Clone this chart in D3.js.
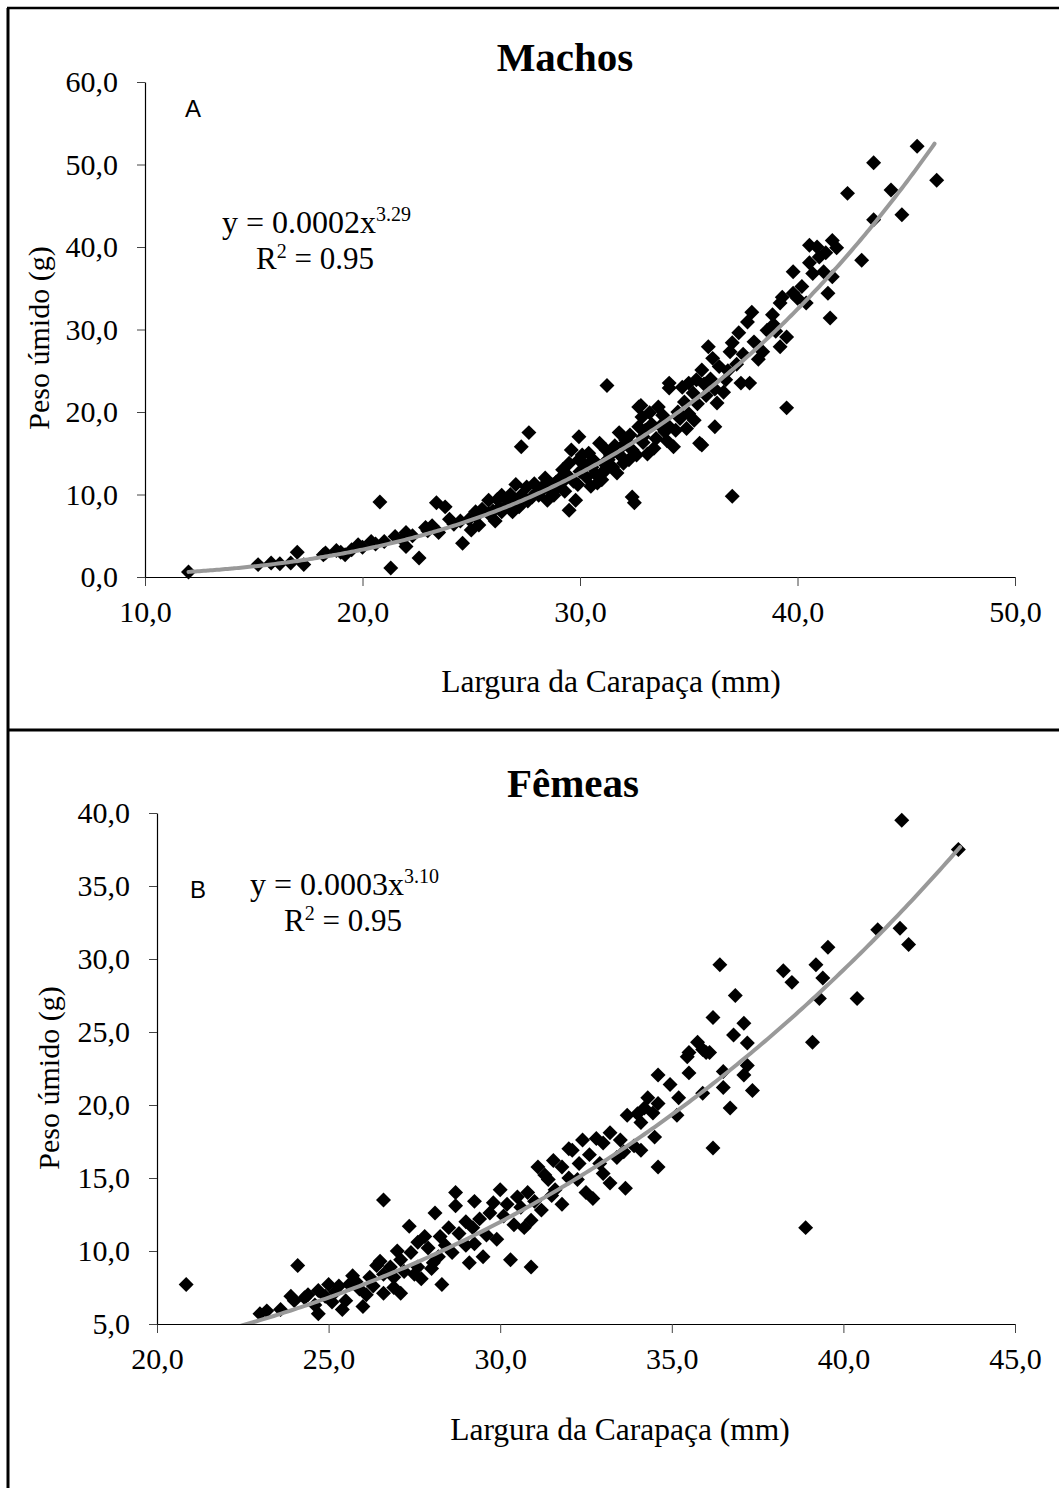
<!DOCTYPE html>
<html>
<head>
<meta charset="utf-8">
<script src="https://cdn.jsdelivr.net/npm/d3@7"></script>
<style>
  body { margin: 0; background: #fff; }
  svg { display: block; }
</style>
</head>
<body>
<div id="vizcont"></div>
<script>
// ---- data (largura mm, peso g) ----
var machos = [
  [12.0,0.6],[15.2,1.5],[15.8,1.7],[16.2,1.6],[16.7,1.7],[17.0,3.0],[17.3,1.5],[18.2,2.7],[18.3,2.9],[18.8,3.2],
  [19.0,3.0],[19.2,2.7],[19.5,3.3],[19.8,3.9],[20.0,3.6],[20.4,4.3],[20.6,4.0],[20.8,9.1],[21.0,4.3],[21.3,1.1],
  [21.5,4.9],[21.8,4.6],[22.0,5.4],[22.0,3.7],[22.3,5.0],[22.6,2.3],[22.9,6.0],[23.0,5.6],[23.2,6.2],[23.4,9.0],
  [23.5,5.4],[23.8,8.5],[24.0,7.0],[24.2,6.4],[24.5,6.8],[24.6,4.1],[24.9,7.0],[25.0,5.7],[25.2,7.3],[25.2,7.9],
  [25.35,6.3],[25.5,8.2],[25.8,7.7],[25.8,9.3],[26.1,6.8],[26.4,7.9],[26.4,9.9],[26.6,8.6],[26.9,7.9],[27.05,11.2],
  [27.2,8.5],[27.3,15.8],[27.55,10.9],[27.65,17.5],[27.8,9.7],[28.0,10.2],[28.25,10.5],[28.5,9.3],[28.7,11.2],[29.0,10.9],
  [29.2,13.0],[29.3,11.8],[29.5,8.1],[29.5,13.8],[29.6,15.4],[29.8,9.3],[29.95,14.2],[29.95,17.0],[30.3,12.1],[30.4,15.0],
  [30.55,13.3],[30.8,11.4],[30.9,16.2],[31.0,11.8],[31.0,12.6],[31.2,15.4],[31.24,23.2],[31.3,14.2],[31.5,13.3],[31.8,17.5],
  [32.1,16.6],[32.25,14.2],[32.4,9.7],[32.5,9.0],[32.6,14.8],[32.7,18.2],[32.7,20.6],[32.8,20.8],[32.85,19.4],[33.2,19.9],
  [33.5,16.8],[33.6,20.6],[34.1,18.2],[34.1,22.9],[34.1,23.5],[34.3,15.8],[34.4,17.8],[34.7,23.0],[35.0,23.5],[35.25,19.0],
  [35.35,23.9],[35.5,16.2],[35.6,25.1],[35.6,16.0],[35.9,27.9],[36.1,26.5],[36.2,18.2],[36.3,21.1],[36.7,23.9],[36.9,27.3],
  [37.0,9.8],[37.0,28.4],[37.3,29.6],[37.7,30.9],[37.8,23.5],[37.9,32.1],[38.4,27.3],[38.6,29.9],[38.85,31.8],[39.2,27.9],
  [39.2,33.2],[39.3,33.9],[39.5,29.1],[39.5,20.5],[39.8,34.4],[39.8,37.0],[40.4,33.2],[40.55,38.1],[40.55,40.2],[40.7,36.8],
  [41.3,39.3],[41.4,34.4],[41.5,31.4],[41.6,36.4],[41.6,40.8],[41.8,39.9],[42.3,46.5],[42.95,38.4],[43.5,43.3],[43.5,50.2],
  [44.3,46.9],[44.8,43.9],[45.5,52.2],[46.4,48.1],
  [26.0,8.0],[26.3,8.4],[26.7,9.2],[27.0,9.0],[27.4,9.6],[27.6,9.2],[28.1,9.9],[28.3,11.0],[28.6,10.6],[28.9,11.5],
  [29.1,12.0],[29.4,12.4],[29.7,11.6],[30.0,12.8],[30.2,13.6],[30.6,14.2],[30.7,12.5],[31.1,13.8],[31.4,14.8],[31.6,15.9],
  [31.9,14.6],[32.0,16.0],[32.3,17.2],[32.9,16.3],[33.0,17.8],[33.3,18.5],[33.4,15.6],[33.8,19.6],[33.9,17.6],[34.5,20.0],
  [34.8,21.2],[35.0,19.8],[35.2,22.3],[35.8,22.0],[36.0,24.0],[36.4,25.5],[36.6,22.4],[37.2,25.8],[37.5,27.0],[38.0,28.5],
  [38.2,26.4],[38.9,30.6],[39.0,29.8],[40.0,33.8],[40.2,35.2],[41.0,38.8],[41.2,37.0],[40.9,40.0],
  [26.2,9.4],[26.8,10.0],[27.3,9.9],[27.9,11.3],[28.4,12.0],[28.8,9.9],[29.3,10.4],[29.9,11.2],[30.1,14.8],[30.5,11.0],
  [31.2,13.0],[31.7,12.6],[32.0,13.8],[32.4,15.4],[32.9,17.0],[33.1,14.9],[33.7,18.3],[34.0,16.5],[34.6,19.2],[34.9,18.0],
  [35.4,21.0],[35.7,23.4],[36.2,22.8],[36.8,25.0],[37.4,23.5]
];
var femeas = [
  [20.85,7.7],[23.0,5.7],[23.2,5.9],[23.6,6.0],[23.9,6.9],[24.1,9.0],[24.3,6.8],[24.7,5.7],[24.7,7.3],[25.0,7.7],
  [25.1,6.5],[25.4,6.0],[25.6,7.7],[25.8,7.9],[26.0,6.2],[26.4,9.0],[26.6,13.5],[26.6,7.1],[26.8,8.9],[26.9,7.5],
  [27.1,7.1],[27.1,9.4],[27.35,11.7],[27.6,10.6],[27.6,8.9],[27.7,8.1],[28.05,9.2],[28.1,12.6],[28.25,11.0],[28.3,7.7],
  [28.6,9.9],[28.7,13.1],[28.7,14.0],[29.1,9.2],[29.2,11.6],[29.25,10.5],[29.25,13.4],[29.8,13.3],[30.0,14.2],[30.3,9.4],
  [30.5,13.7],[30.8,14.0],[30.9,12.1],[30.9,8.9],[31.1,15.75],[31.2,12.8],[31.4,14.9],[31.55,16.2],[31.8,13.2],[31.8,15.75],
  [32.1,16.9],[32.25,14.9],[32.4,17.6],[32.5,14.0],[32.7,13.6],[32.8,17.7],[33.0,15.3],[33.0,17.4],[33.2,18.1],[33.2,14.65],
  [33.5,17.6],[33.65,14.3],[33.7,19.3],[34.1,16.9],[34.1,18.8],[34.3,20.5],[34.45,19.45],[34.5,17.8],[34.6,22.05],[34.6,20.1],
  [34.6,15.75],[34.95,21.4],[35.15,19.3],[35.2,20.5],[35.45,23.3],[35.5,22.2],[35.5,23.6],[35.75,24.3],[35.9,20.8],[35.9,23.8],
  [36.0,23.6],[36.1,23.6],[36.2,17.05],[36.2,26.0],[36.4,29.6],[36.5,22.3],[36.5,21.2],[36.7,19.8],[36.8,24.8],[36.85,27.5],
  [37.1,25.6],[37.1,22.05],[37.2,24.25],[37.2,22.7],[37.35,21.0],[38.25,29.2],[38.5,28.4],[38.9,11.6],[39.1,24.3],[39.2,29.6],
  [39.3,27.3],[39.4,28.7],[39.55,30.8],[40.4,27.3],[41.0,32.0],[41.65,32.1],[41.7,39.5],[41.9,31.0],[43.35,37.5],
  [24.0,6.6],[24.4,7.0],[24.9,6.9],[25.2,7.2],[25.5,6.6],[25.9,7.4],[26.2,8.2],[26.3,7.6],[26.6,8.4],[26.9,8.2],
  [27.2,8.6],[27.4,9.9],[27.9,10.2],[28.0,8.8],[28.4,10.4],[28.8,11.2],[29.0,10.4],[29.4,12.2],[29.6,11.1],[29.7,12.6],
  [30.1,12.4],[30.4,11.8],[30.6,13.0],[31.0,13.4],[31.3,15.2],[31.6,14.2],[32.0,15.0],[32.3,16.0],[32.6,16.6],[33.4,16.4],
  [33.9,17.2],[34.2,19.8],
  [24.6,6.3],[25.3,7.6],[25.7,8.3],[26.1,7.0],[26.5,9.3],[27.0,10.0],[27.5,8.4],[27.8,11.0],[28.2,9.6],[28.5,11.6],
  [29.0,12.0],[29.5,9.6],[29.9,10.8],[30.2,13.2],[30.7,11.6],[31.5,13.8],[32.0,17.0],[32.9,16.0],[33.6,16.8],[34.0,19.4]
];

// axis ticks
var xTicksA = [10, 20, 30, 40, 50];
var yTicksA = [0, 10, 20, 30, 40, 50, 60];
var xTicksB = [20, 25, 30, 35, 40, 45];
var yTicksB = [5, 10, 15, 20, 25, 30, 35, 40];

// power trend y = a * x^b (coefficients behind the rounded labels)
var fitA = { a: 0.000174, b: 3.29, from: 12.0, to: 46.3 };
var fitB = { a: 0.000316, b: 3.10, from: 22.4, to: 43.4 };

var SERIF = "'Liberation Serif', 'Times New Roman', serif";
var W = 1059, H = 1488;
var svg = d3.select("#vizcont").append("svg")
    .attr("width", W).attr("height", H);

// frame: left, top and the divider between the two charts
svg.append("line").attr("x1", 8).attr("y1", 8).attr("x2", 8).attr("y2", H)
    .attr("stroke", "#000").attr("stroke-width", 3);
svg.append("line").attr("x1", 7).attr("y1", 8).attr("x2", W).attr("y2", 8)
    .attr("stroke", "#000").attr("stroke-width", 2.5);
svg.append("line").attr("x1", 7).attr("y1", 730).attr("x2", W).attr("y2", 730)
    .attr("stroke", "#000").attr("stroke-width", 3);

var fmt = function(d) { return d3.format(".1f")(d).replace(".", ","); };

function serifText(sel, size) {
  return sel.style("font-family", SERIF).style("font-size", size + "px").style("fill", "#000");
}

function drawPanel(p) {
  var x = d3.scaleLinear().domain(p.xDomain).range([p.left, p.right]);
  var y = d3.scaleLinear().domain(p.yDomain).range([p.bottom, p.top]);
  var g = svg.append("g");

  // axes
  var xa = g.append("g").attr("transform", "translate(0," + p.bottom + ")")
      .call(d3.axisBottom(x).tickValues(p.xTicks).tickSize(9).tickSizeOuter(0).tickPadding(15).tickFormat(fmt));
  var ya = g.append("g").attr("transform", "translate(" + p.left + ",0)")
      .call(d3.axisLeft(y).tickValues(p.yTicks).tickSize(8).tickSizeOuter(0).tickPadding(19).tickFormat(fmt));
  [xa, ya].forEach(function(a) {
    a.select(".domain").attr("stroke", "#000").attr("stroke-width", 1.2);
    a.selectAll(".tick line").attr("stroke", "#444").attr("stroke-width", 1);
    serifText(a.selectAll(".tick text"), 30);
  });

  // points
  var diamond = d3.symbol().type(d3.symbolSquare).size(112);
  g.append("g").selectAll("path")
      .data(p.data)
      .enter().append("path")
      .attr("d", diamond)
      .attr("transform", function(d) { return "translate(" + x(d[0]) + "," + y(d[1]) + ") rotate(45)"; })
      .attr("fill", "#000");

  // trend line, clipped to the plot area
  var clipId = "clip" + p.id;
  svg.append("clipPath").attr("id", clipId).append("rect")
      .attr("x", p.left).attr("y", p.top - 20)
      .attr("width", p.right - p.left + 20).attr("height", p.bottom - p.top + 20);
  var xs = d3.range(p.fit.from, p.fit.to, 0.1).concat([p.fit.to]);
  var line = d3.line()
      .x(function(v) { return x(v); })
      .y(function(v) { return y(p.fit.a * Math.pow(v, p.fit.b)); })
      .curve(d3.curveBasis);
  g.append("path").datum(xs)
      .attr("d", line)
      .attr("clip-path", "url(#" + clipId + ")")
      .attr("fill", "none").attr("stroke", "#999").attr("stroke-width", 4)
      .attr("stroke-linecap", "round");

  // texts
  serifText(g.append("text"), 41).attr("x", p.titleX).attr("y", p.titleY)
      .attr("text-anchor", "middle").style("font-weight", "bold")
      .text(p.title);
  g.append("text").attr("x", p.letterX).attr("y", p.letterY)
      .style("font-family", "'Liberation Sans', Arial, sans-serif").style("font-size", "24px")
      .text(p.letter);
  var eq = serifText(g.append("text"), 32).attr("x", p.eqX).attr("y", p.eqY);
  eq.append("tspan").text(p.eq);
  eq.append("tspan").style("font-size", "20px").attr("dy", -12).text(p.exp);
  var r2 = serifText(g.append("text"), 31).attr("x", p.r2X).attr("y", p.r2Y);
  r2.append("tspan").text("R");
  r2.append("tspan").style("font-size", "20px").attr("dy", -11).text("2");
  r2.append("tspan").attr("dy", 11).text(" = 0.95");

  serifText(g.append("text"), 31.5).attr("x", p.xLabelX).attr("y", p.xLabelY)
      .attr("text-anchor", "middle")
      .text("Largura da Carapaça (mm)");
  serifText(g.append("text"), 30)
      .attr("transform", "translate(" + p.yLabelX + "," + p.yLabelY + ") rotate(-90)")
      .attr("text-anchor", "middle")
      .text("Peso úmido (g)");
}

drawPanel({
  id: "A", data: machos, fit: fitA,
  xDomain: [10, 50], yDomain: [0, 60], xTicks: xTicksA, yTicks: yTicksA,
  left: 145, right: 1015, top: 82, bottom: 577,
  title: "Machos", titleX: 565, titleY: 71,
  letter: "A", letterX: 185, letterY: 117,
  eq: "y = 0.0002x", exp: "3.29", eqX: 222, eqY: 233, r2X: 256, r2Y: 269,
  xLabelX: 611, xLabelY: 692, yLabelX: 49, yLabelY: 338
});

drawPanel({
  id: "B", data: femeas, fit: fitB,
  xDomain: [20, 45], yDomain: [5, 40], xTicks: xTicksB, yTicks: yTicksB,
  left: 157, right: 1015, top: 813, bottom: 1324,
  title: "Fêmeas", titleX: 573, titleY: 797,
  letter: "B", letterX: 190, letterY: 898,
  eq: "y = 0.0003x", exp: "3.10", eqX: 250, eqY: 895, r2X: 284, r2Y: 931,
  xLabelX: 620, xLabelY: 1440, yLabelX: 59, yLabelY: 1078
});
</script>
</body>
</html>
